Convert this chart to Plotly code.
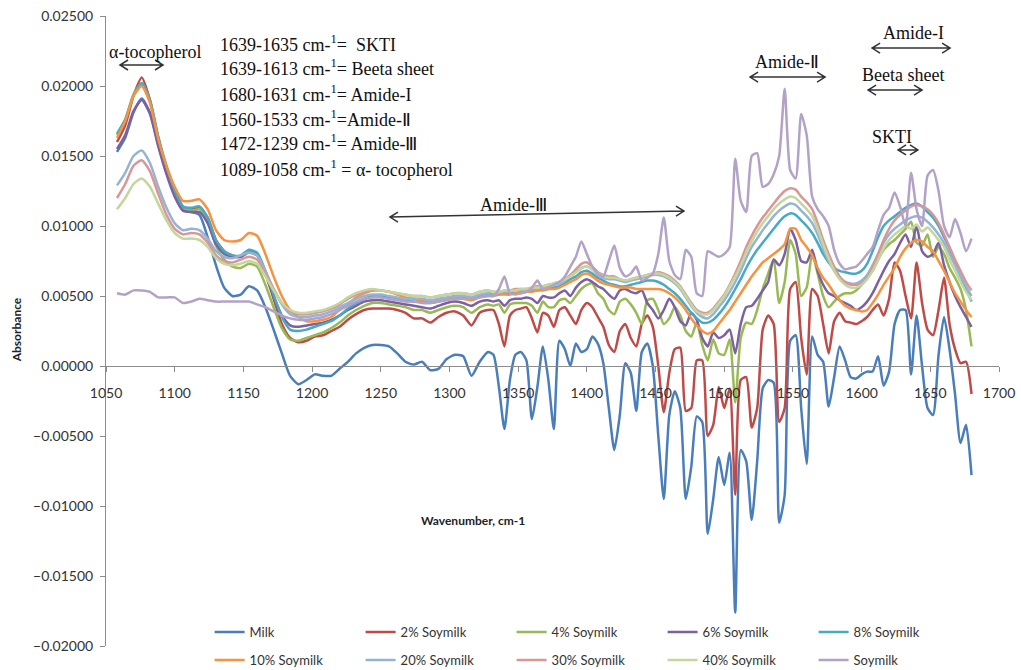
import plotly.graph_objects as go

# Wavenumber sampling (cm-1): coarser over the smooth band, finer over the amide bands
wavenumber = list(range(1058, 1329, 6)) + list(range(1332, 1681, 4))

series_names = ["Milk", "2% Soymilk", "4% Soymilk", "6% Soymilk", "8% Soymilk",
                "10% Soymilk", "20% Soymilk", "30% Soymilk", "40% Soymilk", "Soymilk"]

series_colors = ["#4A7EBB", "#BE4B48", "#98B954", "#7D60A0", "#46AAC5",
                 "#F69240", "#95B3D7", "#D99694", "#C3D69B", "#B3A2C7"]

milk = [0.0153, 0.0163, 0.0181, 0.0191, 0.0181, 0.0158, 0.0139, 0.0123, 0.0112, 0.0110,
        0.0108, 0.0092, 0.0072, 0.0056, 0.0050, 0.0051, 0.0057, 0.0054, 0.0042, 0.0026,
        0.0009, -0.0007, -0.0013, -0.0010, -0.0006, -0.0007, -0.0007, -0.0002, 0.0003, 0.0009,
        0.0013, 0.0015, 0.0015, 0.0014, 0.0009, 0.0003, 0.0001, 0.0003, -0.0003, -0.0002,
        0.0005, 0.0008, 0.0007, -0.0007, 0.0003, 0.0010,
        0.0008, -0.0015, -0.0045, -0.0010, 0.0008, 0.0010, 0.0004, -0.0038, -0.0015, 0.0014,
        -0.0010, -0.0045, 0.0018, 0.0012, 0.0000, 0.0016, 0.0010, 0.0012, 0.0021, 0.0016,
        0.0002, -0.0030, -0.0060, -0.0035, 0.0002, -0.0005, -0.0032, 0.0010, 0.0016, 0.0000,
        -0.0050, -0.0095, -0.0035, -0.0018, -0.0030, -0.0095, -0.0072, -0.0036, -0.0040, -0.0120,
        -0.0095, -0.0065, -0.0085, -0.0062, -0.0176, -0.0060, -0.0068, -0.0110, -0.0068, -0.0016,
        -0.0010, -0.0012, -0.0112, -0.0092, 0.0018, 0.0022, -0.0030, -0.0070, 0.0021, 0.0008,
        0.0003, -0.0029, -0.0008, 0.0014, 0.0004, -0.0008, -0.0009, -0.0006, -0.0004, -0.0004,
        0.0007, -0.0014, -0.0004, 0.0030, 0.0040, 0.0040, -0.0006, 0.0036, 0.0000, -0.0030,
        -0.0035, 0.0008, 0.0035, 0.0012, -0.0020, -0.0055, -0.0042, -0.0078]

soy_2 = [0.0160, 0.0172, 0.0193, 0.0206, 0.0190, 0.0163, 0.0142, 0.0126, 0.0114, 0.0112,
         0.0113, 0.0106, 0.0090, 0.0082, 0.0079, 0.0078, 0.0082, 0.0080, 0.0066, 0.0048,
         0.0030, 0.0020, 0.0017, 0.0018, 0.0021, 0.0022, 0.0025, 0.0028, 0.0033, 0.0037,
         0.0040, 0.0041, 0.0041, 0.0041, 0.0040, 0.0038, 0.0034, 0.0034, 0.0031, 0.0035,
         0.0038, 0.0039, 0.0036, 0.0029, 0.0038, 0.0040,
         0.0040, 0.0030, 0.0014, 0.0036, 0.0040, 0.0041, 0.0042, 0.0034, 0.0024, 0.0038,
         0.0036, 0.0028, 0.0040, 0.0042, 0.0036, 0.0030, 0.0040, 0.0045, 0.0042, 0.0035,
         0.0028, 0.0015, 0.0010, 0.0025, 0.0030, 0.0020, 0.0014, 0.0030, 0.0036, 0.0028,
         0.0000, -0.0033, -0.0005, 0.0012, 0.0013, -0.0032, -0.0030, 0.0004, 0.0004, -0.0050,
         -0.0042, -0.0015, -0.0030, -0.0016, -0.0092, -0.0010, -0.0008, -0.0044, -0.0030, 0.0026,
         0.0036, 0.0030, -0.0040, -0.0030, 0.0055, 0.0060, 0.0020, -0.0006, 0.0055, 0.0050,
         0.0030, 0.0009, 0.0032, 0.0038, 0.0032, 0.0031, 0.0030, 0.0032, 0.0035, 0.0040,
         0.0044, 0.0036, 0.0048, 0.0074, 0.0068, 0.0050, 0.0034, 0.0074, 0.0045, 0.0026,
         0.0022, 0.0040, 0.0063, 0.0030, 0.0012, 0.0002, 0.0003, -0.0020]

soy_4 = [0.0165, 0.0176, 0.0194, 0.0202, 0.0189, 0.0162, 0.0141, 0.0125, 0.0113, 0.0111,
         0.0112, 0.0104, 0.0086, 0.0076, 0.0071, 0.0070, 0.0073, 0.0071, 0.0058, 0.0042,
         0.0027, 0.0019, 0.0018, 0.0020, 0.0022, 0.0024, 0.0027, 0.0031, 0.0036, 0.0040,
         0.0043, 0.0045, 0.0045, 0.0044, 0.0043, 0.0042, 0.0040, 0.0040, 0.0038, 0.0040,
         0.0042, 0.0043, 0.0042, 0.0038, 0.0042, 0.0044,
         0.0043, 0.0044, 0.0038, 0.0044, 0.0045, 0.0045, 0.0045, 0.0043, 0.0038, 0.0046,
         0.0042, 0.0042, 0.0047, 0.0048, 0.0045, 0.0050, 0.0055, 0.0058, 0.0059, 0.0052,
         0.0048, 0.0040, 0.0037, 0.0046, 0.0048, 0.0044, 0.0038, 0.0030, 0.0047, 0.0048,
         0.0040, 0.0030, 0.0034, 0.0042, 0.0036, 0.0025, 0.0021, 0.0031, 0.0015, 0.0004,
         0.0019, 0.0009, 0.0008, 0.0019, -0.0026, 0.0020, 0.0031, 0.0030, 0.0040, 0.0055,
         0.0066, 0.0076, 0.0045, 0.0060, 0.0090, 0.0080, 0.0050, 0.0056, 0.0080, 0.0066,
         0.0050, 0.0042, 0.0046, 0.0050, 0.0052, 0.0052, 0.0054, 0.0058, 0.0064, 0.0068,
         0.0076, 0.0083, 0.0087, 0.0090, 0.0094, 0.0098, 0.0103, 0.0088, 0.0086, 0.0094,
         0.0078, 0.0085, 0.0080, 0.0070, 0.0063, 0.0055, 0.0040, 0.0014]

soy_6 = [0.0155, 0.0165, 0.0182, 0.0190, 0.0180, 0.0157, 0.0137, 0.0121, 0.0111, 0.0110,
         0.0110, 0.0102, 0.0087, 0.0080, 0.0078, 0.0078, 0.0081, 0.0079, 0.0066, 0.0050,
         0.0036, 0.0029, 0.0028, 0.0029, 0.0030, 0.0031, 0.0033, 0.0036, 0.0040, 0.0043,
         0.0046, 0.0047, 0.0047, 0.0046, 0.0045, 0.0044, 0.0043, 0.0042, 0.0041, 0.0043,
         0.0045, 0.0046, 0.0045, 0.0043, 0.0046, 0.0047,
         0.0046, 0.0047, 0.0043, 0.0047, 0.0048, 0.0048, 0.0049, 0.0048, 0.0045, 0.0050,
         0.0049, 0.0049, 0.0052, 0.0054, 0.0050, 0.0056, 0.0060, 0.0062, 0.0060, 0.0057,
         0.0055, 0.0051, 0.0048, 0.0054, 0.0055, 0.0053, 0.0052, 0.0054, 0.0045, 0.0040,
         0.0034, 0.0040, 0.0048, 0.0042, 0.0032, 0.0029, 0.0038, 0.0033, 0.0020, 0.0014,
         0.0024, 0.0020, 0.0022, 0.0026, 0.0009, 0.0030, 0.0042, 0.0043, 0.0048, 0.0054,
         0.0060, 0.0076, 0.0072, 0.0080, 0.0098, 0.0090, 0.0075, 0.0074, 0.0083, 0.0068,
         0.0058, 0.0052, 0.0050, 0.0047, 0.0045, 0.0043, 0.0040, 0.0042, 0.0046, 0.0052,
         0.0060, 0.0068, 0.0075, 0.0080, 0.0088, 0.0094, 0.0085, 0.0100, 0.0082, 0.0078,
         0.0080, 0.0088, 0.0072, 0.0060, 0.0050, 0.0042, 0.0035, 0.0028]

soy_8 = [0.0166, 0.0176, 0.0193, 0.0202, 0.0190, 0.0164, 0.0143, 0.0126, 0.0114, 0.0113,
         0.0114, 0.0106, 0.0090, 0.0082, 0.0079, 0.0079, 0.0083, 0.0081, 0.0068, 0.0051,
         0.0035, 0.0026, 0.0025, 0.0026, 0.0028, 0.0030, 0.0032, 0.0036, 0.0041, 0.0045,
         0.0048, 0.0050, 0.0050, 0.0049, 0.0048, 0.0047, 0.0046, 0.0046, 0.0045, 0.0046,
         0.0048, 0.0049, 0.0049, 0.0048, 0.0050, 0.0051,
         0.0051, 0.0051, 0.0052, 0.0052, 0.0052, 0.0053, 0.0053, 0.0054, 0.0054, 0.0055,
         0.0055, 0.0056, 0.0057, 0.0059, 0.0062, 0.0064, 0.0067, 0.0068, 0.0066, 0.0063,
         0.0061, 0.0059, 0.0058, 0.0057, 0.0057, 0.0058, 0.0059, 0.0060, 0.0061, 0.0061,
         0.0060, 0.0058, 0.0055, 0.0052, 0.0048, 0.0043, 0.0038, 0.0034, 0.0031, 0.0031,
         0.0033, 0.0037, 0.0042, 0.0048, 0.0055, 0.0062, 0.0070, 0.0077, 0.0083, 0.0088,
         0.0093, 0.0098, 0.0103, 0.0107, 0.0109, 0.0108, 0.0104, 0.0100, 0.0095, 0.0088,
         0.0080, 0.0074, 0.0070, 0.0068, 0.0067, 0.0066, 0.0066, 0.0068, 0.0073, 0.0082,
         0.0092, 0.0100, 0.0104, 0.0107, 0.0110, 0.0113, 0.0115, 0.0116, 0.0114, 0.0110,
         0.0106, 0.0100, 0.0092, 0.0084, 0.0074, 0.0064, 0.0055, 0.0046]

soy_10 = [0.0163, 0.0175, 0.0193, 0.0200, 0.0188, 0.0162, 0.0143, 0.0128, 0.0118, 0.0118,
          0.0119, 0.0112, 0.0097, 0.0090, 0.0089, 0.0090, 0.0095, 0.0093, 0.0080, 0.0064,
          0.0050, 0.0040, 0.0035, 0.0032, 0.0032, 0.0033, 0.0035, 0.0040, 0.0044, 0.0049,
          0.0052, 0.0054, 0.0054, 0.0053, 0.0051, 0.0049, 0.0048, 0.0047, 0.0046, 0.0047,
          0.0048, 0.0049, 0.0048, 0.0047, 0.0049, 0.0050,
          0.0050, 0.0051, 0.0051, 0.0051, 0.0052, 0.0052, 0.0053, 0.0053, 0.0054, 0.0054,
          0.0055, 0.0055, 0.0056, 0.0058, 0.0060, 0.0062, 0.0065, 0.0066, 0.0064, 0.0061,
          0.0059, 0.0058, 0.0057, 0.0056, 0.0056, 0.0056, 0.0055, 0.0055, 0.0055, 0.0055,
          0.0055, 0.0054, 0.0052, 0.0049, 0.0045, 0.0040, 0.0034, 0.0029, 0.0025, 0.0023,
          0.0025, 0.0030, 0.0035, 0.0040, 0.0046, 0.0052, 0.0058, 0.0064, 0.0069, 0.0074,
          0.0077, 0.0080, 0.0083, 0.0087, 0.0098, 0.0098, 0.0090, 0.0085, 0.0079, 0.0070,
          0.0063, 0.0058, 0.0052, 0.0047, 0.0043, 0.0041, 0.0040, 0.0039, 0.0040, 0.0045,
          0.0051, 0.0058, 0.0064, 0.0070, 0.0078, 0.0084, 0.0088, 0.0090, 0.0089, 0.0085,
          0.0082, 0.0075, 0.0068, 0.0060, 0.0052, 0.0046, 0.0040, 0.0035]

soy_20 = [0.0129, 0.0138, 0.0150, 0.0154, 0.0145, 0.0128, 0.0113, 0.0102, 0.0097, 0.0098,
          0.0097, 0.0091, 0.0082, 0.0078, 0.0077, 0.0079, 0.0081, 0.0079, 0.0068, 0.0055,
          0.0044, 0.0037, 0.0035, 0.0035, 0.0036, 0.0037, 0.0039, 0.0042, 0.0045, 0.0048,
          0.0050, 0.0051, 0.0051, 0.0050, 0.0049, 0.0048, 0.0048, 0.0048, 0.0047, 0.0048,
          0.0049, 0.0050, 0.0050, 0.0049, 0.0051, 0.0052,
          0.0052, 0.0052, 0.0053, 0.0053, 0.0054, 0.0054, 0.0054, 0.0055, 0.0056, 0.0056,
          0.0057, 0.0058, 0.0059, 0.0061, 0.0064, 0.0067, 0.0070, 0.0071, 0.0069, 0.0065,
          0.0063, 0.0062, 0.0062, 0.0061, 0.0060, 0.0061, 0.0062, 0.0063, 0.0064, 0.0065,
          0.0065, 0.0064, 0.0062, 0.0059, 0.0055, 0.0049, 0.0043, 0.0038, 0.0035, 0.0034,
          0.0037, 0.0042, 0.0047, 0.0053, 0.0060, 0.0068, 0.0077, 0.0085, 0.0091, 0.0097,
          0.0102, 0.0107, 0.0111, 0.0114, 0.0116, 0.0115, 0.0111, 0.0107, 0.0102, 0.0094,
          0.0084, 0.0075, 0.0068, 0.0063, 0.0060, 0.0059, 0.0059, 0.0061, 0.0065, 0.0072,
          0.0080, 0.0088, 0.0094, 0.0098, 0.0101, 0.0104, 0.0106, 0.0107, 0.0106, 0.0103,
          0.0099, 0.0094, 0.0088, 0.0080, 0.0072, 0.0064, 0.0057, 0.0050]

soy_30 = [0.0120, 0.0130, 0.0143, 0.0147, 0.0139, 0.0123, 0.0108, 0.0098, 0.0094, 0.0095,
          0.0094, 0.0088, 0.0079, 0.0075, 0.0074, 0.0076, 0.0078, 0.0076, 0.0066, 0.0055,
          0.0045, 0.0039, 0.0037, 0.0037, 0.0038, 0.0039, 0.0041, 0.0044, 0.0048, 0.0051,
          0.0053, 0.0054, 0.0054, 0.0053, 0.0052, 0.0051, 0.0050, 0.0050, 0.0049, 0.0050,
          0.0051, 0.0052, 0.0052, 0.0051, 0.0053, 0.0054,
          0.0053, 0.0053, 0.0054, 0.0054, 0.0055, 0.0055, 0.0055, 0.0056, 0.0057, 0.0057,
          0.0058, 0.0059, 0.0060, 0.0062, 0.0065, 0.0069, 0.0073, 0.0074, 0.0071, 0.0067,
          0.0065, 0.0064, 0.0064, 0.0062, 0.0061, 0.0062, 0.0063, 0.0064, 0.0065, 0.0066,
          0.0067, 0.0066, 0.0064, 0.0061, 0.0057, 0.0051, 0.0045, 0.0040, 0.0038, 0.0038,
          0.0041, 0.0046, 0.0051, 0.0058, 0.0066, 0.0075, 0.0085, 0.0093, 0.0100, 0.0106,
          0.0111, 0.0116, 0.0121, 0.0125, 0.0127, 0.0126, 0.0121, 0.0117, 0.0112, 0.0102,
          0.0090, 0.0080, 0.0071, 0.0064, 0.0060, 0.0058, 0.0058, 0.0059, 0.0063, 0.0070,
          0.0080, 0.0090, 0.0098, 0.0104, 0.0108, 0.0111, 0.0114, 0.0115, 0.0114, 0.0112,
          0.0108, 0.0102, 0.0094, 0.0085, 0.0076, 0.0068, 0.0060, 0.0054]

soy_40 = [0.0112, 0.0120, 0.0130, 0.0134, 0.0128, 0.0116, 0.0104, 0.0095, 0.0091, 0.0091,
          0.0090, 0.0085, 0.0077, 0.0073, 0.0072, 0.0073, 0.0075, 0.0073, 0.0064, 0.0054,
          0.0045, 0.0040, 0.0038, 0.0038, 0.0039, 0.0040, 0.0042, 0.0045, 0.0049, 0.0052,
          0.0054, 0.0055, 0.0054, 0.0053, 0.0052, 0.0051, 0.0050, 0.0050, 0.0049, 0.0050,
          0.0051, 0.0052, 0.0052, 0.0051, 0.0053, 0.0054,
          0.0053, 0.0053, 0.0054, 0.0054, 0.0054, 0.0055, 0.0055, 0.0056, 0.0056, 0.0057,
          0.0058, 0.0059, 0.0060, 0.0062, 0.0064, 0.0067, 0.0070, 0.0071, 0.0069, 0.0066,
          0.0064, 0.0063, 0.0063, 0.0062, 0.0061, 0.0062, 0.0063, 0.0064, 0.0065, 0.0066,
          0.0066, 0.0065, 0.0063, 0.0060, 0.0056, 0.0050, 0.0044, 0.0039, 0.0037, 0.0037,
          0.0040, 0.0045, 0.0050, 0.0057, 0.0064, 0.0072, 0.0081, 0.0089, 0.0096, 0.0102,
          0.0107, 0.0112, 0.0116, 0.0119, 0.0121, 0.0120, 0.0116, 0.0112, 0.0107, 0.0098,
          0.0087, 0.0077, 0.0068, 0.0062, 0.0058, 0.0056, 0.0056, 0.0058, 0.0062, 0.0068,
          0.0076, 0.0084, 0.0090, 0.0094, 0.0097, 0.0100, 0.0098, 0.0101, 0.0096, 0.0099,
          0.0095, 0.0090, 0.0085, 0.0076, 0.0068, 0.0060, 0.0053, 0.0047]

soymilk = [0.0052, 0.0051, 0.0054, 0.0054, 0.0053, 0.0049, 0.0049, 0.0049, 0.0045, 0.0046,
           0.0048, 0.0047, 0.0046, 0.0046, 0.0046, 0.0046, 0.0046, 0.0044, 0.0042, 0.0039,
           0.0036, 0.0034, 0.0033, 0.0033, 0.0034, 0.0035, 0.0037, 0.0040, 0.0043, 0.0046,
           0.0048, 0.0049, 0.0049, 0.0048, 0.0047, 0.0046, 0.0046, 0.0045, 0.0045, 0.0046,
           0.0047, 0.0048, 0.0048, 0.0048, 0.0049, 0.0050,
           0.0050, 0.0055, 0.0064, 0.0052, 0.0051, 0.0052, 0.0053, 0.0056, 0.0061, 0.0055,
           0.0056, 0.0058, 0.0060, 0.0064, 0.0071, 0.0078, 0.0089, 0.0080, 0.0071, 0.0066,
           0.0064, 0.0075, 0.0086, 0.0070, 0.0064, 0.0066, 0.0071, 0.0061, 0.0063, 0.0066,
           0.0080, 0.0106, 0.0075, 0.0065, 0.0062, 0.0083, 0.0078, 0.0052, 0.0050, 0.0082,
           0.0080, 0.0078, 0.0080, 0.0085, 0.0148, 0.0118, 0.0110, 0.0150, 0.0152, 0.0128,
           0.0130, 0.0137, 0.0150, 0.0198, 0.0140, 0.0134, 0.0180, 0.0165, 0.0121, 0.0112,
           0.0107, 0.0100, 0.0083, 0.0073, 0.0069, 0.0070, 0.0071, 0.0075, 0.0080, 0.0085,
           0.0097, 0.0108, 0.0113, 0.0124, 0.0114, 0.0100, 0.0138, 0.0112, 0.0100, 0.0136,
           0.0140, 0.0125, 0.0100, 0.0092, 0.0105, 0.0095, 0.0082, 0.0091]

series_values = [milk, soy_2, soy_4, soy_6, soy_8, soy_10, soy_20, soy_30, soy_40, soymilk]

# Band assignments printed in the upper-left corner
band_notes = ["1639-1635 cm-<sup>1</sup>=  SKTI",
              "1639-1613 cm-<sup>1</sup>= Beeta sheet",
              "1680-1631 cm-<sup>1</sup>= Amide-I",
              "1560-1533 cm-<sup>1</sup>=Amide-Ⅱ",
              "1472-1239 cm-<sup>1</sup>= Amide-Ⅲ",
              "1089-1058 cm-<sup>1</sup> = α- tocopherol"]
note_y = [0.02307, 0.02129, 0.01943, 0.01771, 0.01593, 0.01414]

# Band labels with the wavenumber span of their double-headed arrow
band_labels = [
    # text, label x, label y, arrow x0, arrow x1, arrow y0, arrow y1
    ("α-tocopherol", 1085.7, 0.02243, 1060.2, 1091.5, 0.02150, 0.02150),
    ("Amide-Ⅲ", 1346.3, 0.01150, 1256.7, 1470.7, 0.01064, 0.01107),
    ("Amide-Ⅱ", 1545.7, 0.02170, 1518.8, 1573.4, 0.02064, 0.02064),
    ("Amide-I", 1637.4, 0.02379, 1607.6, 1664.4, 0.02271, 0.02271),
    ("Beeta sheet", 1630.1, 0.02079, 1604.7, 1644.0, 0.01971, 0.01971),
    ("SKTI", 1622.1, 0.01636, 1626.5, 1641.0, 0.01543, 0.01543),
]

X_RANGE = [1050, 1700]
Y_RANGE = [-0.020, 0.025]
FIG_W, FIG_H = 1021, 670
MARGIN = dict(l=106, r=22, t=16, b=24, autoexpand=False)
PLOT_W = FIG_W - MARGIN["l"] - MARGIN["r"]
PLOT_H = FIG_H - MARGIN["t"] - MARGIN["b"]
PX_PER_WN = PLOT_W / (X_RANGE[1] - X_RANGE[0])
PX_PER_ABS = PLOT_H / (Y_RANGE[1] - Y_RANGE[0])

SERIF = "Liberation Serif, Times New Roman, serif"
SANS = "Lato, Open Sans, sans-serif"

fig = go.Figure()
for i, (name, color, values) in enumerate(zip(series_names, series_colors, series_values)):
    fig.add_trace(go.Scatter(
        x=wavenumber, y=values, name=name, mode="lines",
        legend="legend" if i < 5 else "legend2",
        line=dict(color=color, width=2.5, shape="spline", smoothing=0.6),
    ))


def double_arrow(x0, x1, y0, y1):
    """Open-headed double arrow drawn as a single path in data units."""
    hx = 8 / PX_PER_WN
    hy = 5 / PX_PER_ABS
    path = (f"M{x0},{y0} L{x1},{y1} "
            f"M{x0 + hx},{y0 + hy} L{x0},{y0} L{x0 + hx},{y0 - hy} "
            f"M{x1 - hx},{y1 + hy} L{x1},{y1} L{x1 - hx},{y1 - hy}")
    return dict(type="path", path=path, xref="x", yref="y",
                line=dict(color="#333333", width=1.5))


shapes = []
annotations = []
for text, lx, ly, ax0, ax1, ay0, ay1 in band_labels:
    shapes.append(double_arrow(ax0, ax1, ay0, ay1))
    annotations.append(dict(x=lx, y=ly, xref="x", yref="y", text=text, showarrow=False,
                            xanchor="center", yanchor="middle",
                            font=dict(family=SERIF, size=18, color="#111111")))

for text, y in zip(band_notes, note_y):
    annotations.append(dict(x=1131.5, y=y, xref="x", yref="y", text=text, showarrow=False,
                            xanchor="left", yanchor="middle",
                            font=dict(family=SERIF, size=18, color="#111111")))

annotations.append(dict(x=1317, y=-0.0110, xref="x", yref="y", text="<b>Wavenumber, cm-1</b>",
                        showarrow=False, xanchor="center", yanchor="middle",
                        font=dict(family=SANS, size=12, color="#222222")))
annotations.append(dict(x=-0.100, y=0.0026, xref="paper", yref="y", text="<b>Absorbance</b>",
                        showarrow=False, textangle=-90, xanchor="center", yanchor="middle",
                        font=dict(family=SANS, size=12, color="#222222")))

zero_pos = (0 - Y_RANGE[0]) / (Y_RANGE[1] - Y_RANGE[0])
legend_style = dict(orientation="h", x=0.116, xanchor="left", yanchor="middle",
                    entrywidth=106, traceorder="normal",
                    font=dict(family=SANS, size=13, color="#333333"),
                    bgcolor="rgba(0,0,0,0)")
# legend rows sit 14 px below and 14 px above the bottom edge of the plot area
row_offset = 14 / PLOT_H

fig.update_layout(
    width=FIG_W, height=FIG_H, margin=MARGIN,
    paper_bgcolor="white", plot_bgcolor="white",
    shapes=shapes, annotations=annotations,
    xaxis=dict(range=X_RANGE, tick0=1050, dtick=50, anchor="free", position=zero_pos,
               showline=True, linecolor="#8C8C8C", linewidth=1,
               ticks="outside", ticklen=5, tickcolor="#8C8C8C",
               showgrid=False, zeroline=False, ticklabelstandoff=9,
               tickfont=dict(family=SANS, size=14, color="#333333")),
    yaxis=dict(range=Y_RANGE, tick0=-0.02, dtick=0.005, tickformat=".5f",
               showline=True, linecolor="#8C8C8C", linewidth=1,
               ticks="outside", ticklen=5, tickcolor="#8C8C8C",
               showgrid=False, zeroline=False, ticklabelstandoff=4,
               tickfont=dict(family=SANS, size=14, color="#333333")),
    legend=dict(legend_style, y=row_offset),
    legend2=dict(legend_style, y=-row_offset),
    showlegend=True,
)

fig.write_html("out.html")
